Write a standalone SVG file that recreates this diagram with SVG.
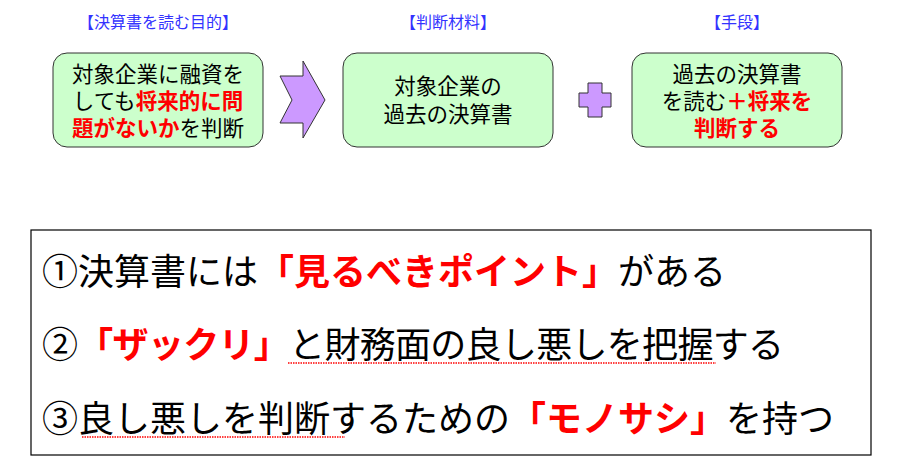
<svg xmlns="http://www.w3.org/2000/svg" width="900" height="464" viewBox="0 0 900 464">
<style>
.t{font-family:"Liberation Sans","Noto Sans CJK JP",sans-serif}
.h{fill:#3333ff;font-size:16px}
.b{fill:#ccffcc;stroke:#333;stroke-width:1}
.bt{font-size:21.5px;fill:#000}
.r{fill:#ff0000;font-weight:bold}
.big{font-size:36px;fill:#000}
.w{fill:none;stroke:#ff0000;stroke-width:1.6;stroke-dasharray:1.5 1}
</style>
<rect width="900" height="464" fill="#fff"/>
<g class="t">
<text class="h" x="158" y="28" text-anchor="middle">【決算書を読む目的】</text>
<text class="h" x="448" y="28" text-anchor="middle">【判断材料】</text>
<text class="h" x="737" y="28" text-anchor="middle">【手段】</text>
</g>
<g id="n1" class="t">
<rect class="b" x="53" y="53" width="210" height="94" rx="14"/>
<text class="bt" x="158" y="82" text-anchor="middle">対象企業に融資を</text>
<text class="bt" x="158" y="109" text-anchor="middle">しても<tspan class="r">将来的に問</tspan></text>
<text class="bt" x="158" y="136" text-anchor="middle"><tspan class="r">題がないか</tspan>を判断</text>
</g>
<g id="n2" class="t">
<rect class="b" x="343" y="53" width="210" height="94" rx="14"/>
<text class="bt" x="448" y="94" text-anchor="middle">対象企業の</text>
<text class="bt" x="448" y="122" text-anchor="middle">過去の決算書</text>
</g>
<g id="n3" class="t">
<rect class="b" x="632" y="53" width="210" height="94" rx="14"/>
<text class="bt" x="737" y="82" text-anchor="middle">過去の決算書</text>
<text class="bt" x="737" y="109" text-anchor="middle">を読む<tspan class="r">＋将来を</tspan></text>
<text class="bt" x="737" y="136" text-anchor="middle"><tspan class="r">判断する</tspan></text>
</g>
<g id="connectors">
<polygon points="280,76 303,76 303,61 325,100 303,138 303,123 280,123 292,100" fill="#cc99ff" stroke="#333" stroke-width="1"/>
<path d="M579,93 h9 v-10 h14 v10 h9 v14 h-9 v10 h-14 v-10 h-9 z" fill="#cc99ff" stroke="#333" stroke-width="1"/>
</g>
<g id="panel" class="t">
<rect x="31" y="230" width="840" height="225" fill="#fff" stroke="#000" stroke-width="1.2"/>
<text class="big" x="42" y="285">①決算書には<tspan class="r">「見るべきポイント」</tspan>がある</text>
<text class="big" x="42" y="358" textLength="742" lengthAdjust="spacing">②<tspan class="r">「ザックリ」</tspan>と財務面の良し悪しを把握する</text>
<text class="big" x="42" y="432">③良し悪しを判断するための<tspan class="r">「モノサシ」</tspan>を持つ</text>
<path class="w" d="M288,363 H716"/>
<path class="w" d="M82,437 H345"/>
</g>
</svg>
